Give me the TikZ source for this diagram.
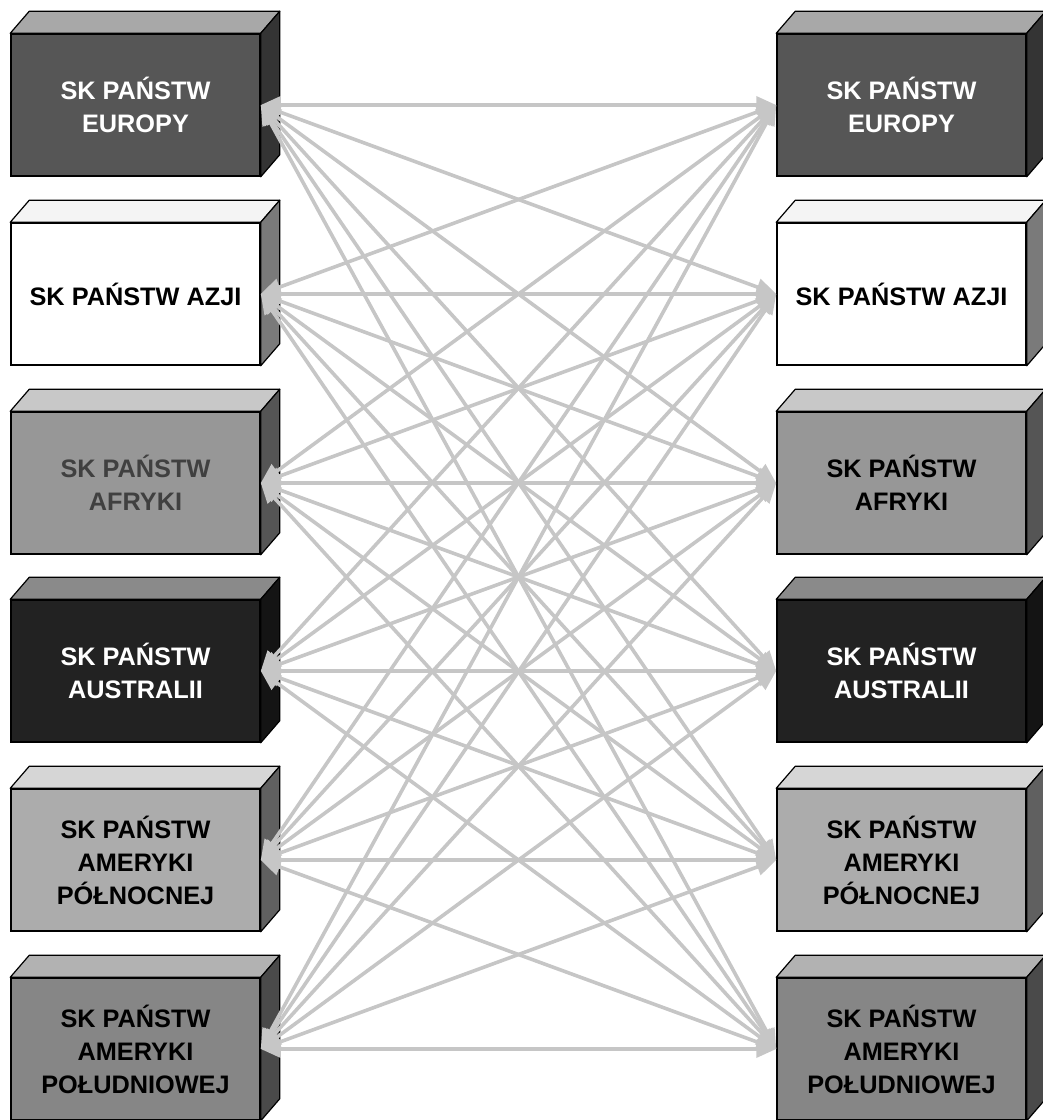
\documentclass[tikz,border=0pt]{standalone}
\usepackage{fontspec}
\setmainfont{Liberation Sans}
\usetikzlibrary{arrows.meta}
\definecolor{linegray}{HTML}{C6C6C6}
\definecolor{fA}{HTML}{565656}\definecolor{tA}{HTML}{A8A8A8}\definecolor{sA}{HTML}{343434}
\definecolor{fB}{HTML}{FFFFFF}\definecolor{tB}{HTML}{F4F4F4}\definecolor{sB}{HTML}{7A7A7A}
\definecolor{fC}{HTML}{979797}\definecolor{tC}{HTML}{C8C8C8}\definecolor{sC}{HTML}{555555}
\definecolor{fD}{HTML}{222222}\definecolor{tD}{HTML}{8A8A8A}\definecolor{sD}{HTML}{141414}
\definecolor{fE}{HTML}{ACACAC}\definecolor{tE}{HTML}{D6D6D6}\definecolor{sE}{HTML}{606060}
\definecolor{fF}{HTML}{868686}\definecolor{tF}{HTML}{B2B2B2}\definecolor{sF}{HTML}{4A4A4A}
\definecolor{txC}{HTML}{404040}
\tikzset{
  conn/.style={draw=linegray, line width=3.6pt,
    {Triangle[length=20pt,width=17pt]}-{Triangle[length=20pt,width=17pt]}},
  boxfront/.style={draw=black, line width=1.5pt, minimum width=249pt,
    minimum height=142pt, inner sep=0pt, align=center,
    font=\fontsize{25.3}{33}\selectfont\bfseries},
  boxface/.style={draw=black, line width=1.2pt, line join=round},
}
\newcommand\cubebox[8]{%
  \node[boxfront, fill=#4, text=#7] (#1) at (#2,#3) {#8};
  \filldraw[boxface, fill=#5] (#1.north west) -- ++(19,-22)
     -- ([shift={(19,-22)}]#1.north east) -- (#1.north east) -- cycle;
  \filldraw[boxface, fill=#6] (#1.north east) -- ++(19,-22)
     -- ([shift={(19,-22)}]#1.south east) -- (#1.south east) -- cycle;
}
\begin{document}
\begin{tikzpicture}[x=1pt,y=-1pt]
\useasboundingbox (0,0) rectangle (1043,1120);
% left boxes
\cubebox{L1}{135.5}{105}{fA}{tA}{sA}{white}{SK PAŃSTW\\EUROPY}
\cubebox{L2}{135.5}{294}{fB}{tB}{sB}{black}{SK PAŃSTW AZJI}
\cubebox{L3}{135.5}{483}{fC}{tC}{sC}{txC}{SK PAŃSTW\\AFRYKI}
\cubebox{L4}{135.5}{671}{fD}{tD}{sD}{white}{SK PAŃSTW\\AUSTRALII}
\cubebox{L5}{135.5}{860}{fE}{tE}{sE}{black}{SK PAŃSTW\\AMERYKI\\PÓŁNOCNEJ}
\cubebox{L6}{135.5}{1049}{fF}{tF}{sF}{black}{SK PAŃSTW\\AMERYKI\\POŁUDNIOWEJ}
% right boxes
\cubebox{R1}{901.5}{105}{fA}{tA}{sA}{white}{SK PAŃSTW\\EUROPY}
\cubebox{R2}{901.5}{294}{fB}{tB}{sB}{black}{SK PAŃSTW AZJI}
\cubebox{R3}{901.5}{483}{fC}{tC}{sC}{black}{SK PAŃSTW\\AFRYKI}
\cubebox{R4}{901.5}{671}{fD}{tD}{sD}{white}{SK PAŃSTW\\AUSTRALII}
\cubebox{R5}{901.5}{860}{fE}{tE}{sE}{black}{SK PAŃSTW\\AMERYKI\\PÓŁNOCNEJ}
\cubebox{R6}{901.5}{1049}{fF}{tF}{sF}{black}{SK PAŃSTW\\AMERYKI\\POŁUDNIOWEJ}
% connectors
\foreach \i in {1,...,6}{
  \foreach \j in {1,...,6}{
    \draw[conn] (L\i.east) -- (R\j.west);
  }
}
\end{tikzpicture}
\end{document}
